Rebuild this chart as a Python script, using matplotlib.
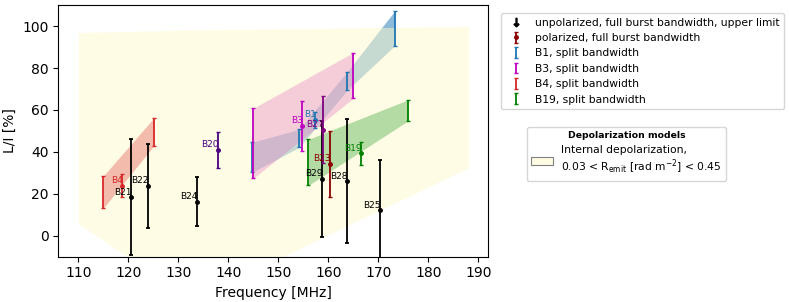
import matplotlib
matplotlib.use("Agg")
import matplotlib.pyplot as plt
from matplotlib.lines import Line2D
from matplotlib.patches import Patch

# ---- depolarization model envelope ----
model_freq = [110.0, 132.5, 188.1]
model_upper = [96.9, 98.2, 99.8]
model_lower = [5.9, -31.0, 32.5]

# ---- unpolarized, full burst bandwidth, upper limits ----
unpol_names = ["B21", "B22", "B24", "B29", "B28", "B25"]
unpol_freq = [120.5, 123.9, 133.65, 158.7, 163.8, 170.3]
unpol_val = [18.3, 23.9, 16.2, 27.2, 26.0, 12.1]
unpol_err = [27.7, 20.0, 11.7, 27.7, 29.7, 24.0]

# ---- polarized, full burst bandwidth ----
pol_names = ["B4", "B20", "B3", "B1", "B27", "B23", "B19"]
pol_freq = [118.7, 138.0, 154.8, 157.4, 159.0, 160.3, 166.6]
pol_val = [23.9, 40.9, 52.4, 55.2, 50.5, 34.2, 39.3]
pol_err = [5.5, 8.6, 11.8, 4.0, 16.0, 15.9, 5.6]
pol_colors = ["tab:red", "indigo", "m", "tab:blue", "purple", "darkred", "green"]

# ---- split bandwidth ----
b1_freq = [144.8, 154.2, 163.8, 173.3]
b1_lo = [30.3, 42.2, 69.5, 90.7]
b1_hi = [44.6, 50.8, 78.3, 107.3]

b3_freq = [145.0, 165.0]
b3_lo = [27.4, 65.6]
b3_hi = [60.8, 87.4]

b4_freq = [115.0, 125.06]
b4_lo = [13.2, 42.8]
b4_hi = [28.5, 56.0]

b19_freq = [156.0, 176.0]
b19_lo = [24.0, 54.9]
b19_hi = [46.0, 64.9]

xticks = [110, 120, 130, 140, 150, 160, 170, 180, 190]
yticks = [0, 20, 40, 60, 80, 100]

fig = plt.figure(figsize=(7.89, 3.02), dpi=100)
ax = fig.add_axes([0.0739, 0.150, 0.545, 0.833])

# model envelope (drawn above the B1 band, below other bands)
ax.fill_between(model_freq, model_lower, model_upper, color="lemonchiffon",
                alpha=0.5, lw=0, zorder=1.0)


def split(freq, lo, hi, color, fill, alpha, z):
    ax.fill_between(freq, lo, hi, color=fill, alpha=alpha, lw=0, zorder=z)
    mid = [(a + b) / 2 for a, b in zip(lo, hi)]
    err = [(b - a) / 2 for a, b in zip(lo, hi)]
    return ax.errorbar(freq, mid, yerr=err, fmt="none", ecolor=color,
                       elinewidth=1.3, capsize=1.5, capthick=1.0, zorder=2.5)


h_b1 = split(b1_freq, b1_lo, b1_hi, "tab:blue", "tab:blue", 0.5, 0.5)
h_b3 = split(b3_freq, b3_lo, b3_hi, "m", "tab:pink", 0.35, 1.5)
h_b4 = split(b4_freq, b4_lo, b4_hi, "tab:red", "tab:red", 0.3, 1.5)
h_b19 = split(b19_freq, b19_lo, b19_hi, "green", "tab:green", 0.35, 1.5)

# unpolarized points
for n, f, v, e in zip(unpol_names, unpol_freq, unpol_val, unpol_err):
    ax.errorbar([f], [v], yerr=[e], fmt="o", color="k", ms=2.5, elinewidth=1.3,
                capsize=1.5, capthick=1.3, zorder=3)
    ax.annotate(n, (f, v), xytext=(0.5, 0.5), textcoords="offset points",
                ha="right", va="bottom", fontsize=6.5, color="k", zorder=4)

h_pol = None
for n, f, v, e, c in zip(pol_names, pol_freq, pol_val, pol_err, pol_colors):
    h = ax.errorbar([f], [v], yerr=[e], fmt="o", color=c, ms=2.5, elinewidth=1.3,
                    capsize=1.5, capthick=1.0, zorder=3)
    if n == "B23":
        h_pol = h
    ax.annotate(n, (f, v), xytext=(0.5, 0.5), textcoords="offset points",
                ha="right", va="bottom", fontsize=6.5, color=c, zorder=4)

ax.set_xlim(106, 192)
ax.set_ylim(-10, 110)
ax.set_xticks(xticks)
ax.set_yticks(yticks)
ax.tick_params(labelsize=10)
ax.set_xlabel("Frequency [MHz]", fontsize=10)
ax.set_ylabel("L/I [%]", fontsize=10)

h_unpol = Line2D([], [], color="k", marker=r"$\downarrow$", ms=6, ls="none")

fig.legend([h_unpol, h_pol, h_b1, h_b3, h_b4, h_b19],
           ["unpolarized, full burst bandwidth, upper limit",
            "polarized, full burst bandwidth",
            "B1, split bandwidth", "B3, split bandwidth",
            "B4, split bandwidth", "B19, split bandwidth"],
           loc="upper left", bbox_to_anchor=(501 / 789, 1 - 13.3 / 302),
           borderaxespad=0, fontsize=7.75)

model_patch = Patch(facecolor="#fffbe3", edgecolor="gray", lw=0.8)
fig.legend([model_patch],
           ["Internal depolarization,\n0.03 < R$_{\\rm emit}$ [rad m$^{-2}$] < 0.45"],
           loc="upper left", bbox_to_anchor=(526.7 / 789, 1 - 126.7 / 302),
           borderaxespad=0, fontsize=7.75, title="Depolarization models",
           title_fontproperties={"weight": "bold", "size": 6.7})

fig.savefig("out.png", dpi=100)
